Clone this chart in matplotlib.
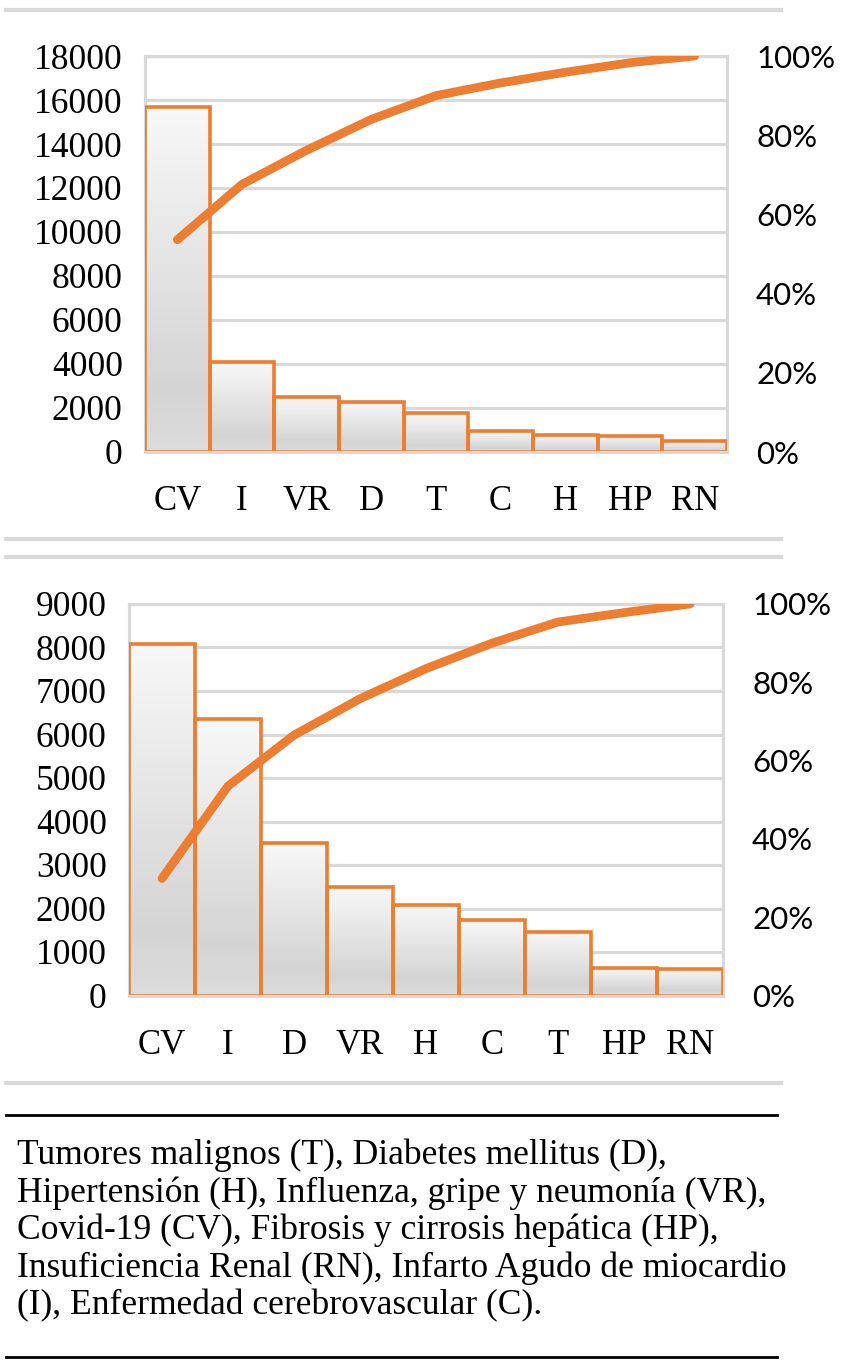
import numpy as np
import matplotlib
matplotlib.use('Agg')
import matplotlib.pyplot as plt
from matplotlib.colors import LinearSegmentedColormap
from matplotlib.lines import Line2D
from matplotlib.ticker import FuncFormatter

# upper chart
cats_top = ['CV', 'I', 'VR', 'D', 'T', 'C', 'H', 'HP', 'RN']
vals_top = [15700, 4080, 2510, 2290, 1760, 950, 770, 710, 500]
cum_top = [0.536, 0.676, 0.762, 0.840, 0.900, 0.932, 0.959, 0.983, 1.0]

# lower chart
cats_bot = ['CV', 'I', 'D', 'VR', 'H', 'C', 'T', 'HP', 'RN']
vals_bot = [8070, 6350, 3510, 2500, 2090, 1740, 1470, 640, 600]
cum_bot = [0.299, 0.535, 0.665, 0.758, 0.835, 0.900, 0.954, 0.978, 1.0]

caption = [
    'Tumores malignos (T), Diabetes mellitus (D),',
    'Hipertensión (H), Influenza, gripe y neumonía (VR),',
    'Covid-19 (CV), Fibrosis y cirrosis hepática (HP),',
    'Insuficiencia Renal (RN), Infarto Agudo de miocardio',
    '(I), Enfermedad cerebrovascular (C).',
]

ORANGE = '#ED7D31'
GRID = '#D9D9D9'
W, H = 855, 1362

plt.rcParams['font.family'] = ['Liberation Serif', 'DejaVu Serif']

cmap = LinearSegmentedColormap.from_list(
    'bar', [(0, '#dcdcdc'), (0.18, '#d4d4d4'), (1, '#f8f8f8')])
grad = np.linspace(0, 1, 128).reshape(-1, 1)


def fx(px):
    return px / W


def fy(py):
    return 1 - py / H


def pareto(left, right, top, bottom, cats, vals, cum, ymax, ystep):
    ax = fig.add_axes([fx(left), fy(bottom), fx(right - left),
                       (bottom - top) / H])
    x = np.arange(len(cats))
    ax.grid(axis='y', color=GRID, lw=2.3)
    ax.set_axisbelow(True)
    for sp in ax.spines.values():
        sp.set_color(GRID)
        sp.set_linewidth(2.3)
    ax.spines['bottom'].set_zorder(6)
    bars = ax.bar(x, vals, width=1.0, facecolor='none', edgecolor=ORANGE,
                  lw=2.6, zorder=3)
    for b in bars:
        x0 = b.get_x()
        ax.imshow(grad, extent=[x0, x0 + b.get_width(), 0, b.get_height()],
                  aspect='auto', cmap=cmap, origin='lower', zorder=2,
                  interpolation='bilinear')
    ax.set_xlim(-0.5, len(cats) - 0.5)
    ax.set_ylim(0, ymax)
    ax.set_yticks(np.arange(0, ymax + 1, ystep))
    ax.set_xticks(x, cats)
    ax.tick_params(axis='y', length=0, labelsize=25.5, pad=16)
    ax.tick_params(axis='x', length=0, labelsize=25, pad=24)

    ax2 = ax.twinx()
    ax2.set_ylim(0, 1)
    ax2.set_yticks(np.arange(0, 1.01, 0.2))
    ax2.yaxis.set_major_formatter(FuncFormatter(lambda v, p: f'{v:.0%}'))
    ax2.plot(x, cum, color=ORANGE, lw=6.3, solid_capstyle='round',
             solid_joinstyle='round', zorder=5)
    for sp in ax2.spines.values():
        sp.set_visible(False)
    ax2.tick_params(axis='y', length=0, labelsize=22.5, pad=21)
    for lab in ax2.get_yticklabels():
        lab.set_fontfamily('Lato')
    return ax, ax2


fig = plt.figure(figsize=(W / 100, H / 100), dpi=100)

pareto(145, 727, 56, 452, cats_top, vals_top, cum_top, 18000, 2000)
pareto(129, 723, 604, 995.5, cats_bot, vals_bot, cum_bot, 9000, 1000)

# separators
for yy in [10, 539, 557, 1083]:
    fig.add_artist(Line2D([fx(6), fx(781)], [fy(yy), fy(yy)], color=GRID,
                          lw=3, transform=fig.transFigure))
for yy in [1115, 1357]:
    fig.add_artist(Line2D([fx(6), fx(777)], [fy(yy), fy(yy)], color='black',
                          lw=2, transform=fig.transFigure))

# caption
for i, line in enumerate(caption):
    fig.text(fx(17), fy(1164 + i * 37.65), line, fontsize=25.6,
             ha='left', va='baseline', color='black')

fig.savefig('out.png', dpi=100)
